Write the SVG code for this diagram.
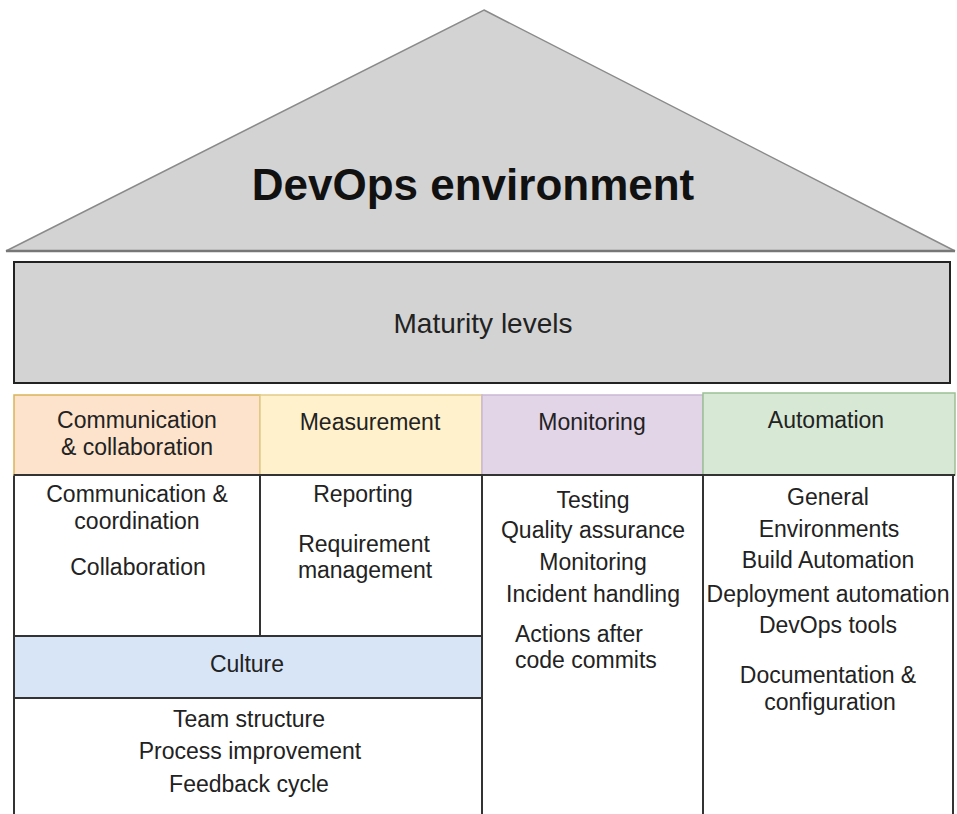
<svg xmlns="http://www.w3.org/2000/svg" width="957" height="814" viewBox="0 0 957 814">
<style>
  text { font-family: "Liberation Sans", Arial, sans-serif; fill: #222; text-anchor: middle; }
  .t { font-size: 23px; }
  .hdr { font-size: 23px; }
  .body { fill: #ffffff; stroke: #333; stroke-width: 2; }
  .gray { fill: #d3d3d3; }
</style>
<rect x="0" y="0" width="957" height="814" fill="#ffffff"/>

<g id="roof">
  <polygon class="gray" points="484,10 955,251 6,251" stroke="#8a8a8a" stroke-width="1.5"/>
  <line x1="6" y1="251" x2="955" y2="251" stroke="#777" stroke-width="2.5"/>
  <text x="473" y="200" style="font-size:44px;font-weight:bold;fill:#111">DevOps environment</text>
</g>

<g id="maturity">
  <rect class="gray" x="14" y="262" width="936" height="121" stroke="#222" stroke-width="2"/>
  <text x="483" y="333" style="font-size:28px">Maturity levels</text>
</g>

<g id="comm-body">
  <rect class="body" x="14" y="475" width="246" height="161"/>
  <text class="t" x="137" y="502">Communication &amp;</text>
  <text class="t" x="137" y="529">coordination</text>
  <text class="t" x="138" y="575">Collaboration</text>
</g>

<g id="meas-body">
  <rect class="body" x="260" y="475" width="222" height="161"/>
  <text class="t" x="363" y="502">Reporting</text>
  <text class="t" x="364" y="552">Requirement</text>
  <text class="t" x="365" y="578">management</text>
</g>

<g id="culture-body">
  <rect class="body" x="14" y="698" width="468" height="130"/>
  <text class="t" x="249" y="727">Team structure</text>
  <text class="t" x="250" y="759">Process improvement</text>
  <text class="t" x="249" y="792">Feedback cycle</text>
</g>

<g id="culture">
  <rect x="14" y="636" width="468" height="62" fill="#d7e5f7" stroke="#333" stroke-width="2"/>
  <text class="hdr" x="247" y="672">Culture</text>
</g>

<g id="mon-body">
  <rect class="body" x="482" y="475" width="221" height="353"/>
  <text class="t" x="593" y="508">Testing</text>
  <text class="t" x="593" y="538">Quality assurance</text>
  <text class="t" x="593" y="570">Monitoring</text>
  <text class="t" x="593" y="602">Incident handling</text>
  <text class="t" x="515" y="642" style="text-anchor:start">Actions after</text>
  <text class="t" x="515" y="668" style="text-anchor:start">code commits</text>
</g>

<g id="auto-body">
  <rect class="body" x="703" y="475" width="250" height="353"/>
  <text class="t" x="828" y="505">General</text>
  <text class="t" x="829" y="537">Environments</text>
  <text class="t" x="828" y="568">Build Automation</text>
  <text class="t" x="828" y="602">Deployment automation</text>
  <text class="t" x="828" y="633">DevOps tools</text>
  <text class="t" x="828" y="683">Documentation &amp;</text>
  <text class="t" x="830" y="710">configuration</text>
</g>

<g id="comm-header">
  <rect x="14" y="395" width="246" height="80" fill="#fde3cc" stroke="#d9b45a" stroke-width="1.5"/>
  <text class="hdr" x="137" y="428">Communication</text>
  <text class="hdr" x="137" y="455">&amp; collaboration</text>
</g>

<g id="meas-header">
  <rect x="260" y="395" width="222" height="80" fill="#fff1cc" stroke="#e2cc88" stroke-width="1.5"/>
  <text class="hdr" x="370" y="430">Measurement</text>
</g>

<g id="mon-header">
  <rect x="482" y="395" width="221" height="80" fill="#e2d5e8" stroke="#c9b8d2" stroke-width="1.5"/>
  <text class="hdr" x="592" y="430">Monitoring</text>
</g>

<g id="auto-header">
  <rect x="703" y="393" width="252" height="82" fill="#d7e8d4" stroke="#9cc095" stroke-width="1.5"/>
  <text class="hdr" x="826" y="428">Automation</text>
</g>

<g id="dividers">
  <line x1="14" y1="475" x2="482" y2="475" stroke="#333" stroke-width="2"/>
  <line x1="482" y1="475" x2="955" y2="475" stroke="#333" stroke-width="2"/>
</g>
</svg>
